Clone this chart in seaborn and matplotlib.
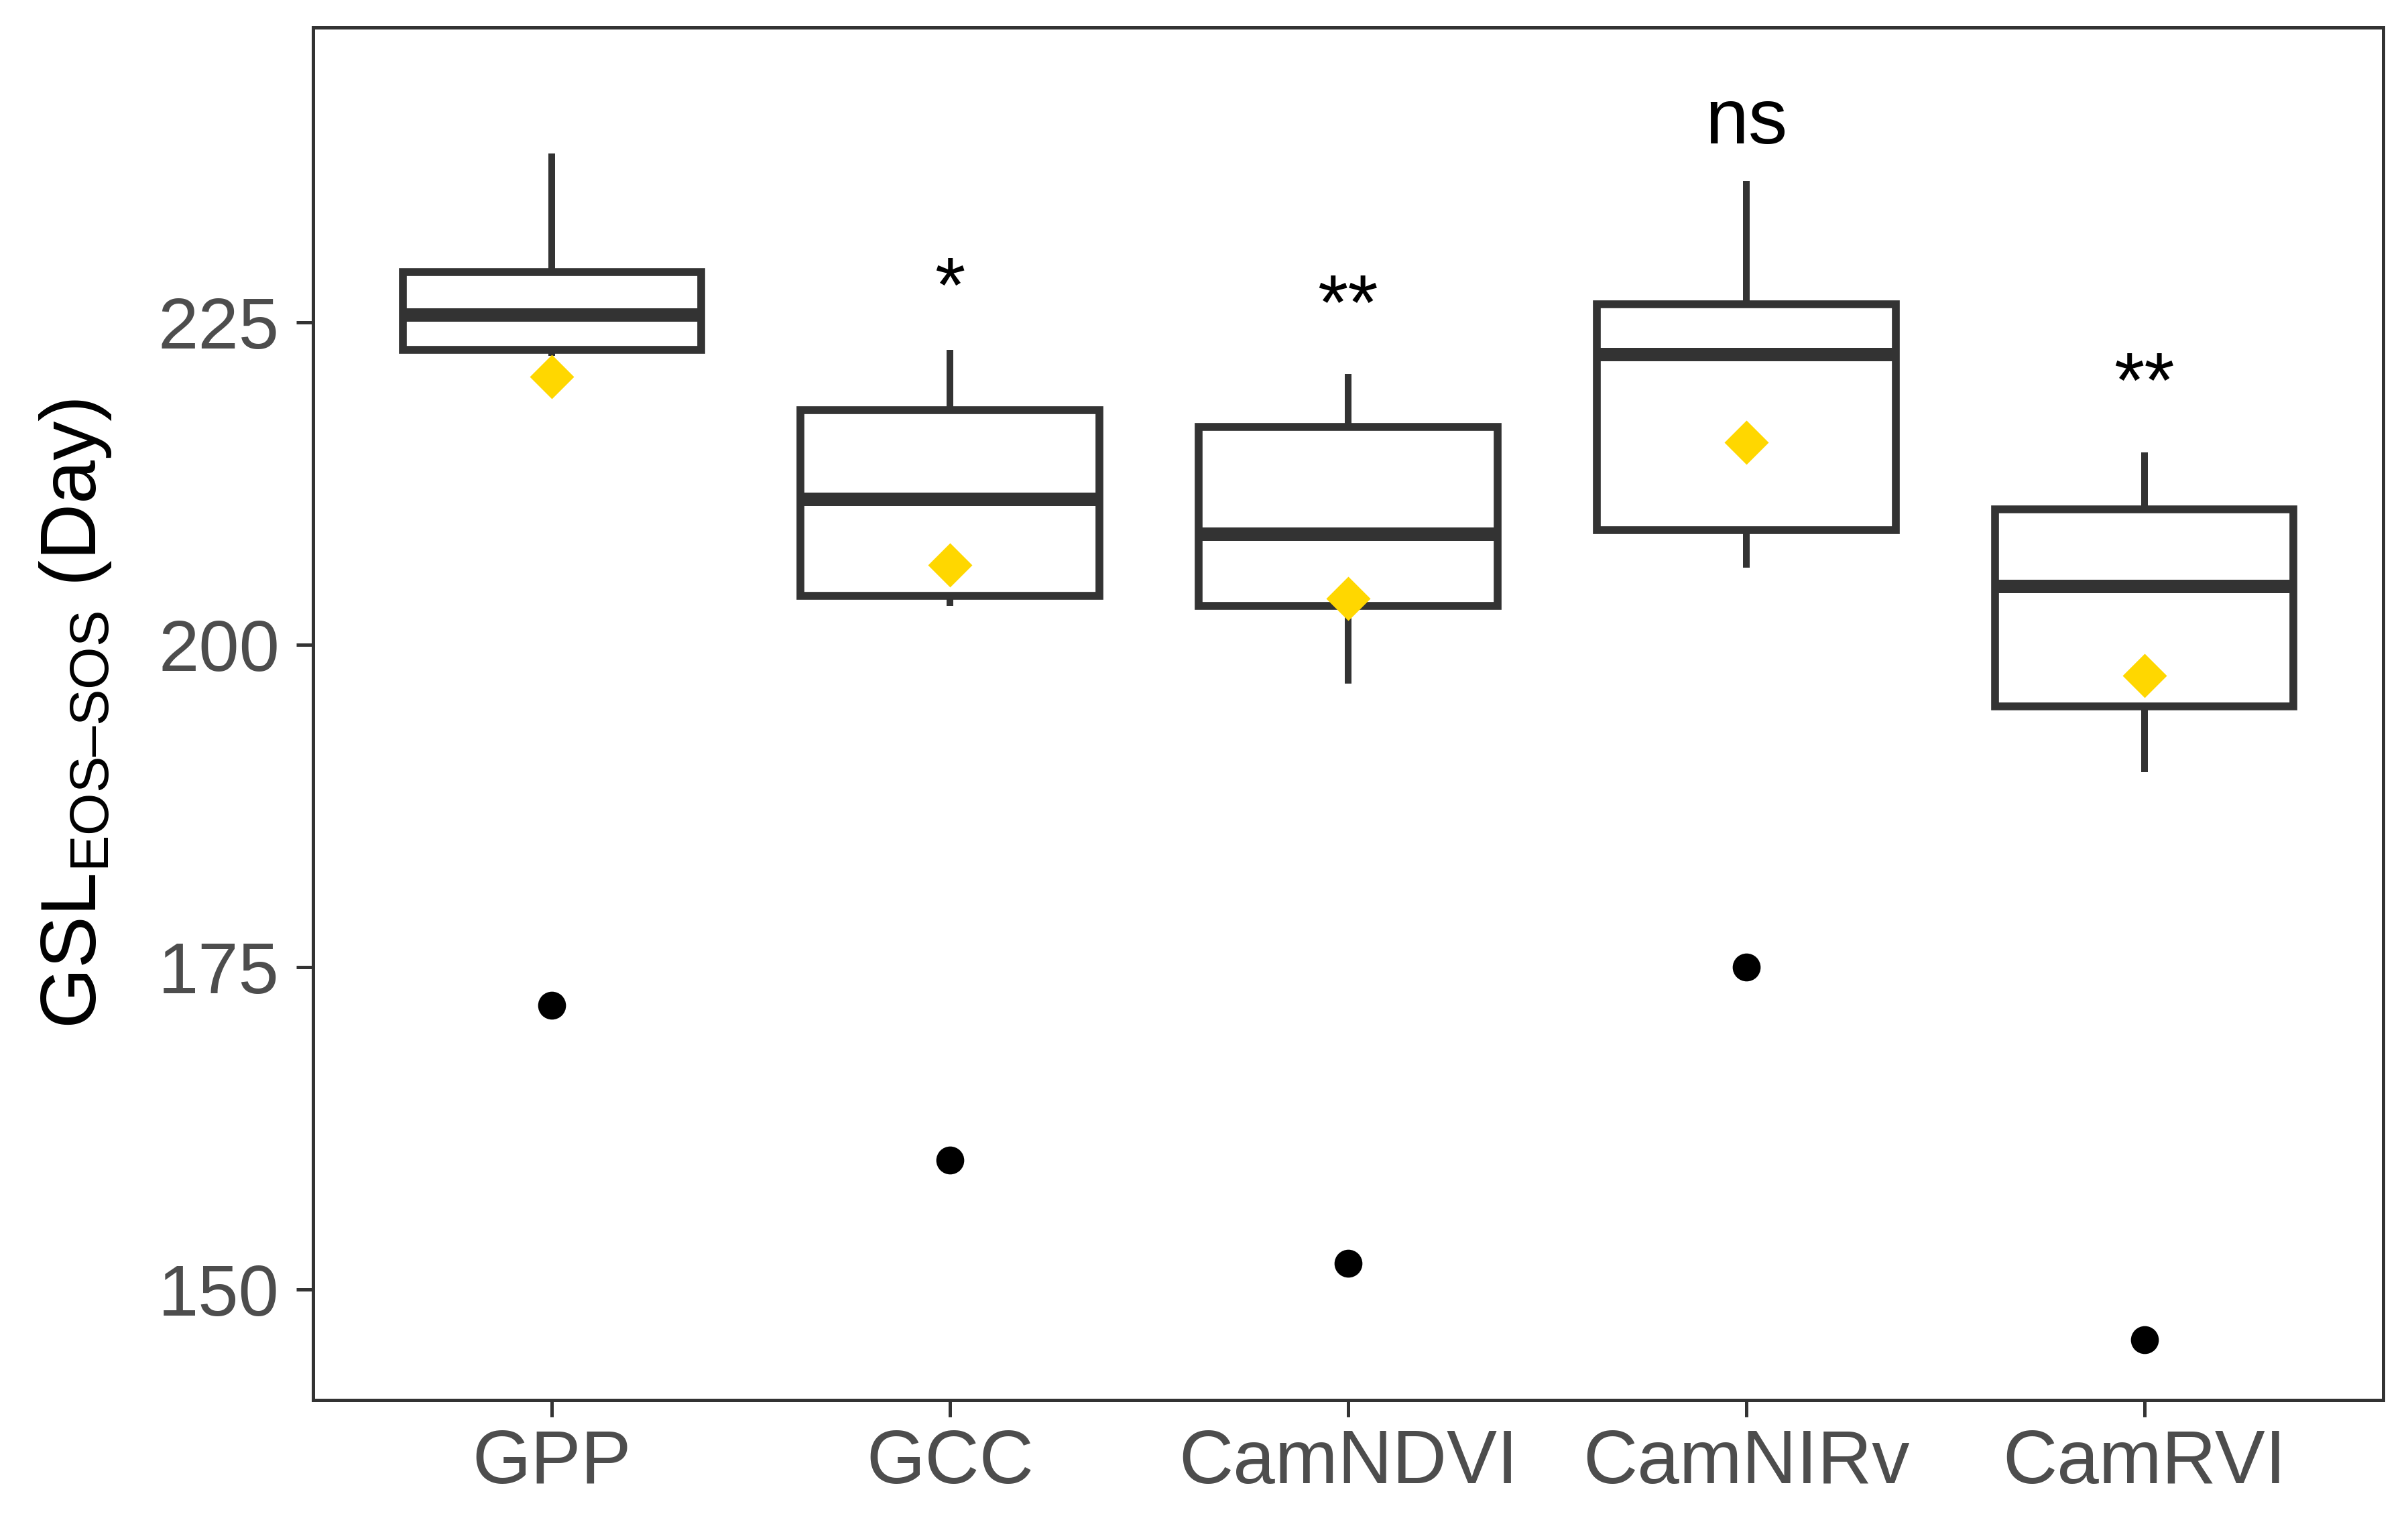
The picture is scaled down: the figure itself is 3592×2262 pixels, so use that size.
import numpy as np
import pandas as pd
import matplotlib.pyplot as plt
import seaborn as sns

# values
categories = ['GPP', 'GCC', 'CamNDVI', 'CamNIRv', 'CamRVI']
whisker_low = [222.4, 203.0, 197.0, 206.0, 190.1]
q1 = [222.9, 203.8, 203.0, 208.9, 195.2]
medians = [225.6, 211.3, 208.6, 222.5, 204.5]
q3 = [228.9, 218.2, 216.9, 226.4, 210.5]
whisker_high = [238.1, 222.9, 221.0, 236.0, 214.9]
means = [220.8, 206.2, 203.6, 215.7, 197.6]
outliers = [172.0, 160.0, 152.0, 175.0, 146.1]
sig_labels = ['', '*', '**', 'ns', '**']
sig_y = [0, 227.4, 226.0, 240.5, 220.0]

sns.set_theme(style='ticks')
plt.rcParams['font.family'] = ['Liberation Sans', 'DejaVu Sans']
plt.rcParams['mathtext.fontset'] = 'custom'
plt.rcParams['mathtext.rm'] = 'Liberation Sans'

dark = '#333333'
fig = plt.figure(figsize=(3592 / 300, 2262 / 300), dpi=300)
ax = fig.add_axes([0.130, 0.0765, 0.8597, 0.9055])

# box statistics as summary values
stats = []
for i, c in enumerate(categories):
    stats.append({'label': c, 'whislo': whisker_low[i], 'q1': q1[i], 'med': medians[i],
                  'q3': q3[i], 'whishi': whisker_high[i], 'fliers': []})

ax.bxp(stats, positions=range(len(categories)), widths=0.75, showcaps=False,
       showfliers=False, patch_artist=True, manage_ticks=False,
       boxprops=dict(facecolor='white', edgecolor=dark, linewidth=2.8),
       whiskerprops=dict(color=dark, linewidth=2.4, solid_capstyle='butt'),
       medianprops=dict(color=dark, linewidth=4.8, solid_capstyle='butt'),
       zorder=2)

df = pd.DataFrame({'group': categories, 'mean': means, 'outlier': outliers})
sns.stripplot(data=df, x='group', y='outlier', color='black', size=10,
              jitter=False, linewidth=0, ax=ax, zorder=4)
sns.stripplot(data=df, x='group', y='mean', color='#FFD700', marker='D', size=11.2,
              jitter=False, linewidth=0, ax=ax, zorder=4)

for i, lab in enumerate(sig_labels):
    if lab:
        ax.text(i, sig_y[i], lab, ha='center', va='center', fontsize=28, color='black')

ax.set_xlim(-0.6, 4.6)
ax.set_ylim(141.4, 247.9)
ax.set_yticks([150, 175, 200, 225])
ax.set_xticks(range(len(categories)))
ax.set_xticklabels(categories)
ax.set_xlabel('')
ax.set_ylabel('GSL$_\\mathregular{EOS–SOS}$ (Day)', fontsize=28, color='black', labelpad=16)

for s in ax.spines.values():
    s.set_visible(True)
    s.set_color(dark)
    s.set_linewidth(1.2)
ax.tick_params(axis='both', direction='out', length=6, width=1.2, color=dark,
               labelcolor='#4D4D4D')
ax.tick_params(axis='y', labelsize=26, pad=6)
ax.tick_params(axis='x', labelsize=27, pad=4)

fig.savefig('out.png', dpi=300)
